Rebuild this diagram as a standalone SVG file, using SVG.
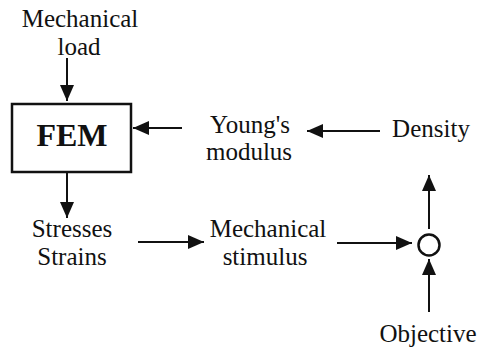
<svg xmlns="http://www.w3.org/2000/svg" width="477" height="348" viewBox="0 0 477 348">
<style>
text{font-family:"Liberation Serif","Times New Roman",serif;font-size:25px;fill:#111;text-anchor:middle}
.fem{font-weight:bold;font-size:32px}
.c{stroke:#111;stroke-width:2;fill:none}
</style>
<defs>
<marker id="ah" viewBox="0 0 16 14" refX="16" refY="7" markerWidth="16" markerHeight="14" markerUnits="userSpaceOnUse" orient="auto">
<path d="M0,0 L16,7 L0,14 Z" fill="#111"/>
</marker>
</defs>
<rect width="477" height="348" fill="#fff"/>
<g id="load"><text x="80" y="27">Mechanical</text><text x="79" y="55">load</text></g>
<g id="fem"><rect x="12" y="104" width="119" height="68" fill="#fff" stroke="#111" stroke-width="2.5"/><text class="fem" x="72" y="146">FEM</text></g>
<g id="young"><text x="250" y="133">Young's</text><text x="249" y="160">modulus</text></g>
<g id="density"><text x="431" y="137">Density</text></g>
<g id="stresses"><text x="72" y="237">Stresses</text><text x="72" y="265">Strains</text></g>
<g id="stimulus"><text x="268" y="237">Mechanical</text><text x="265" y="265">stimulus</text></g>
<g id="sum"><ellipse cx="429" cy="245" rx="10.5" ry="10.5" fill="#fff" stroke="#111" stroke-width="2.5"/></g>
<g id="objective"><text x="428" y="342">Objective</text></g>
<g id="connectors">
<line class="c" x1="67" y1="58" x2="67" y2="101" marker-end="url(#ah)"/>
<line class="c" x1="182" y1="128" x2="133" y2="128" marker-end="url(#ah)"/>
<line class="c" x1="380" y1="131" x2="307" y2="131" marker-end="url(#ah)"/>
<line class="c" x1="67" y1="172" x2="67" y2="218" marker-end="url(#ah)"/>
<line class="c" x1="138" y1="242" x2="204" y2="242" marker-end="url(#ah)"/>
<line class="c" x1="337" y1="243" x2="412" y2="243" marker-end="url(#ah)"/>
<line class="c" x1="429" y1="229" x2="429" y2="175" marker-end="url(#ah)"/>
<line class="c" x1="429" y1="312" x2="429" y2="259" marker-end="url(#ah)"/>
</g>
</svg>
